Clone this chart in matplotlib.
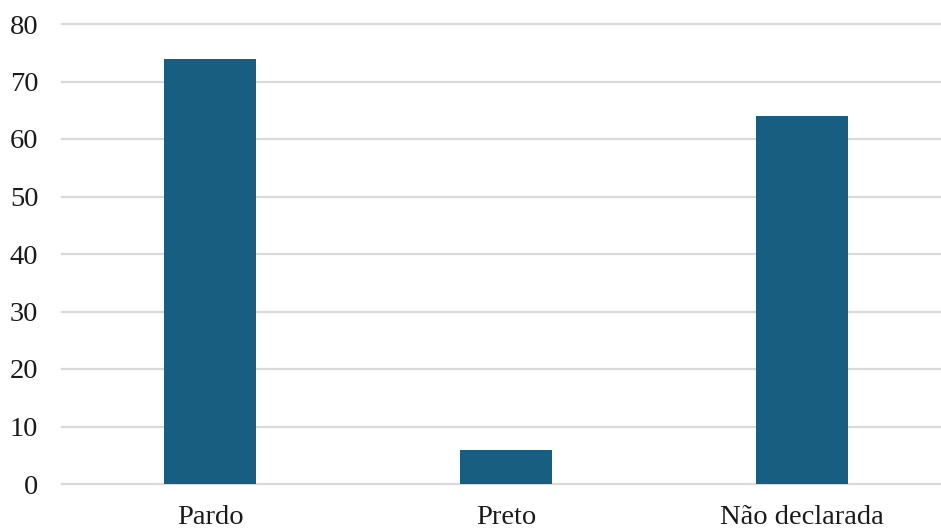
import matplotlib.pyplot as plt

categorias = ["Pardo", "Preto", "Não declarada"]
valores = [74, 6, 64]
yticks = [0, 10, 20, 30, 40, 50, 60, 70, 80]

plt.rcParams['font.family'] = ['Liberation Serif', 'DejaVu Serif']

fig = plt.figure(figsize=(9.41, 5.28), dpi=100)
ax = fig.add_axes([62/941, 44/528, 879/941, 460/528])

x = range(len(categorias))
ax.bar(x, valores, width=0.31, color="#175e80", zorder=2)

for t in yticks:
    ax.axhline(t, color="#d9d9d9", lw=1.6, zorder=1, clip_on=False)

ax.set_xlim(-0.5, 2.47)
ax.set_ylim(0, 80)
ax.set_yticks(yticks)
ax.set_xticks(list(x))
ax.set_xticklabels(categorias)
ax.tick_params(axis="both", length=0, labelsize=20.5, colors="#1a1a1a")
ax.tick_params(axis="y", pad=17)
ax.tick_params(axis="x", pad=15)
for s in ax.spines.values():
    s.set_visible(False)

fig.savefig("out.png", dpi=100)
